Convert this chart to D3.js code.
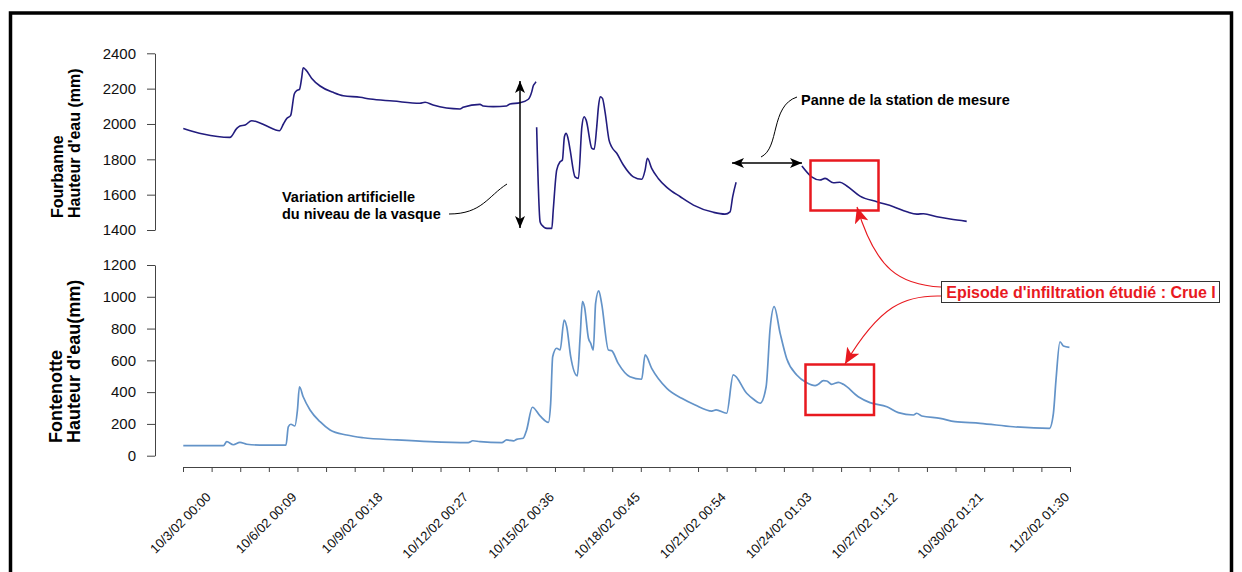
<!DOCTYPE html>
<html><head><meta charset="utf-8">
<script src="https://cdn.jsdelivr.net/npm/d3@7"></script>
<style>
html,body{margin:0;padding:0;background:#fff;}
svg{display:block;font-family:"Liberation Sans",Arial,sans-serif;}
</style></head>
<body>
<svg id="chart" width="1242" height="572"></svg>
<script>
// ---- data (x = days since 10/2/02 00:00) ----
const xTickLabels = ["10/3/02 00:00","10/6/02 00:09","10/9/02 00:18","10/12/02 00:27","10/15/02 00:36","10/18/02 00:45","10/21/02 00:54","10/24/02 01:03","10/27/02 01:12","10/30/02 01:21","11/2/02 01:30"];
const topTicks = [1400,1600,1800,2000,2200,2400];
const bottomTicks = [0,200,400,600,800,1000,1200];

// Fourbanne (null = missing data)
const fourbanneDays = [0.01,0.70,1.64,1.88,1.99,2.17,2.40,2.58,2.93,3.37,3.51,3.62,3.76,3.89,3.97,4.07,4.15,4.20,4.30,4.50,4.79,5.25,5.60,6.19,6.54,7.34,8.28,8.46,8.74,9.68,9.79,10.38,10.49,10.84,11.31,11.43,11.78,12.07,12.19,12.24,12.30,12.34,
 12.35,
 12.36,12.48,12.54,12.72,12.89,12.94,13.06,13.18,13.26,13.33,13.39,13.47,13.53,13.70,13.82,13.94,14.02,14.09,14.29,14.37,14.46,14.52,14.58,14.66,14.75,14.89,14.98,15.16,15.39,15.74,16.03,16.15,16.23,16.38,16.61,16.91,17.38,17.84,18.54,18.94,19.12,19.21,19.33,
 20.5,
 21.63,21.97,22.26,22.44,22.73,22.96,23.20,23.66,24.25,24.83,25.30,25.65,25.88,26.35,26.81,27.39];
const fourbanneValues = [1975,1943,1924,1975,1988,1994,2018,2013,1988,1962,2000,2030,2047,2170,2188,2196,2264,2318,2305,2258,2215,2179,2160,2151,2141,2130,2117,2123,2107,2085,2094,2111,2102,2098,2102,2113,2120,2140,2183,2215,2230,2239,
 null,
 1981,1447,1428,1409,1409,1513,1739,1786,1796,1928,1947,1909,1853,1701,1692,1984,2041,2022,1862,1857,1984,2098,2154,2145,2069,1909,1871,1834,1768,1701,1687,1739,1806,1749,1692,1641,1588,1541,1500,1490,1503,1588,1670,
 null,
 1762,1701,1683,1692,1667,1670,1649,1592,1560,1532,1503,1490,1492,1475,1462,1449];

// Fontenotte
const fontenotteDays = [0.01,1.41,1.53,1.76,1.99,2.23,2.69,3.60,3.68,3.77,3.91,4.00,4.07,4.20,4.44,4.79,5.14,5.72,6.30,7.47,8.63,9.97,10.13,10.38,11.14,11.31,11.55,11.66,11.89,12.01,12.21,12.48,12.77,12.85,12.92,13.06,13.18,13.32,13.41,13.55,13.78,13.88,13.96,14.03,14.17,14.25,14.34,14.42,14.53,14.63,14.87,14.98,15.21,15.62,16.03,16.15,16.38,16.91,17.43,17.90,18.48,18.63,19.00,19.23,19.70,19.94,20.17,20.38,20.52,20.66,20.87,21.10,21.45,21.80,22.09,22.20,22.38,22.50,22.67,22.91,23.08,23.60,24.01,24.60,25.00,25.53,25.64,25.82,26.46,26.98,27.86,29.02,30.28,30.42,30.51,30.65,30.77,30.98];
const fontenotteValues = [63,63,88,69,84,72,67,67,182,198,187,288,434,371,288,214,162,130,113,99,88,82,94,88,82,99,93,103,110,162,305,250,210,330,623,676,665,854,812,623,502,749,969,938,739,707,665,959,1038,959,665,661,581,497,481,634,550,424,361,319,281,288,267,508,393,355,330,434,802,938,770,610,508,459,441,449,472,470,449,462,449,371,334,308,271,256,267,250,235,214,204,182,172,267,476,717,690,682];

const svg = d3.select("#chart");
const FONT = '"Liberation Sans",Arial,sans-serif';

// frame
svg.append("rect").attr("x",10.5).attr("y",13).attr("width",1221).attr("height",620)
  .attr("fill","none").attr("stroke","#000").attr("stroke-width",3.5);

// scales
const x = d3.scaleLinear().domain([0,31]).range([183,1070]);
const yTop = d3.scaleLinear().domain([1400,2400]).range([230,53.3]);
const yBot = d3.scaleLinear().domain([0,1200]).range([455.7,265]);

function styleAxis(g){
  g.selectAll("path.domain").attr("stroke","#444").attr("stroke-width",1);
  g.selectAll(".tick line").attr("stroke","#444").attr("stroke-width",1);
  g.selectAll(".tick text").attr("fill","#111").style("font-family",FONT).style("font-size","15px");
}

svg.append("g").attr("transform","translate(155,0)")
  .call(d3.axisLeft(yTop).tickValues(topTicks).tickSize(8).tickSizeOuter(0).tickPadding(11).tickFormat(d3.format("d")))
  .call(styleAxis);
svg.append("g").attr("transform","translate(155,0)")
  .call(d3.axisLeft(yBot).tickValues(bottomTicks).tickSize(8).tickSizeOuter(0).tickPadding(11).tickFormat(d3.format("d")))
  .call(styleAxis);

const xAxisY = 467;
svg.append("g").attr("transform",`translate(0,${xAxisY})`)
  .call(d3.axisBottom(x).tickValues(d3.range(0,32)).tickSize(5).tickSizeOuter(0).tickFormat(""))
  .call(styleAxis);

svg.append("g").selectAll("text").data(xTickLabels).join("text")
  .attr("transform",(d,i)=>`translate(${x(1+3*i)},${xAxisY+31}) rotate(-45)`)
  .attr("text-anchor","end")
  .style("font-family",FONT).style("font-size","13px").attr("fill","#111")
  .text(d=>d);

// y-axis titles
function yTitle(lines, xs, yStart, size){
  lines.forEach((t,i)=>{
    svg.append("text").attr("transform",`translate(${xs[i]},${yStart}) rotate(-90)`)
      .attr("text-anchor","start").style("font-family",FONT).style("font-weight","bold")
      .style("font-size",size+"px").attr("fill","#000").text(t);
  });
}
yTitle(["Fourbanne","Hauteur d'eau (mm)"],[63,80],218,16);
yTitle(["Fontenotte","Hauteur d'eau(mm)"],[62,80],443,18);

// lines
const topData = fourbanneDays.map((d,i)=>({d, v:fourbanneValues[i]}));
const botData = fontenotteDays.map((d,i)=>({d, v:fontenotteValues[i]}));

svg.append("path").datum(topData)
  .attr("fill","none").attr("stroke","#221c7e").attr("stroke-width",1.6)
  .attr("d", d3.line().defined(p=>p.v!==null).x(p=>x(p.d)).y(p=>yTop(p.v)).curve(d3.curveMonotoneX));

svg.append("path").datum(botData)
  .attr("fill","none").attr("stroke","#6393c8").attr("stroke-width",1.7)
  .attr("d", d3.line().x(p=>x(p.d)).y(p=>yBot(p.v)).curve(d3.curveMonotoneX));

// markers
const defs = svg.append("defs");
defs.append("marker").attr("id","arrB").attr("markerUnits","userSpaceOnUse")
  .attr("viewBox","0 0 12 10").attr("refX",12).attr("refY",5)
  .attr("markerWidth",12).attr("markerHeight",10).attr("orient","auto-start-reverse")
  .append("path").attr("d","M0,0 L12,5 L0,10 L3,5 z").attr("fill","#000");
defs.append("marker").attr("id","arrR").attr("markerUnits","userSpaceOnUse")
  .attr("viewBox","0 0 16 14").attr("refX",16).attr("refY",7)
  .attr("markerWidth",16).attr("markerHeight",14).attr("orient","auto")
  .append("path").attr("d","M0,0 L16,7 L0,14 L4,7 z").attr("fill","#e8191f");

// vertical double arrow
svg.append("line").attr("x1",520).attr("y1",81).attr("x2",520).attr("y2",228)
  .attr("stroke","#000").attr("stroke-width",1.5)
  .attr("marker-start","url(#arrB)").attr("marker-end","url(#arrB)");
// horizontal double arrow
svg.append("line").attr("x1",732).attr("y1",163).attr("x2",802).attr("y2",163)
  .attr("stroke","#000").attr("stroke-width",1.5)
  .attr("marker-start","url(#arrB)").attr("marker-end","url(#arrB)");

// annotation text
function label(txt, xx, yy, size, color, anchor){
  return svg.append("text").attr("x",xx).attr("y",yy).attr("text-anchor",anchor||"start")
    .style("font-family",FONT).style("font-weight","bold").style("font-size",size+"px")
    .attr("fill",color||"#000").text(txt);
}
label("Variation artificielle",282,202,14.5);
label("du niveau de la vasque",282,219,14.5);
svg.append("path").attr("d","M449,214 C482,214 488,196 507,184").attr("fill","none").attr("stroke","#000").attr("stroke-width",1);

label("Panne de la station de mesure",801,105,14.5);
svg.append("path").attr("d","M761,157 C780,148 770,106 797,97").attr("fill","none").attr("stroke","#000").attr("stroke-width",1);

// red boxes
svg.append("rect").attr("x",810.5).attr("y",160.5).attr("width",68).attr("height",50)
  .attr("fill","none").attr("stroke","#e8191f").attr("stroke-width",2.5);
svg.append("rect").attr("x",805.5).attr("y",364.5).attr("width",68.5).attr("height",50.5)
  .attr("fill","none").attr("stroke","#e8191f").attr("stroke-width",2.5);

// red label
svg.append("rect").attr("x",941.5).attr("y",281.5).attr("width",278).attr("height",21)
  .attr("fill","#fff").attr("stroke","#333").attr("stroke-width",1);
label("Episode d'infiltration étudié : Crue I",1081,297.5,16,"#e8191f","middle");

// red arrows
svg.append("path").attr("d","M941,287 C900,285 876,270 857,207")
  .attr("fill","none").attr("stroke","#e8191f").attr("stroke-width",1.1).attr("marker-end","url(#arrR)");
svg.append("path").attr("d","M941,296 C905,295 880,305 845,364")
  .attr("fill","none").attr("stroke","#e8191f").attr("stroke-width",1.1).attr("marker-end","url(#arrR)");
</script>
</body></html>
